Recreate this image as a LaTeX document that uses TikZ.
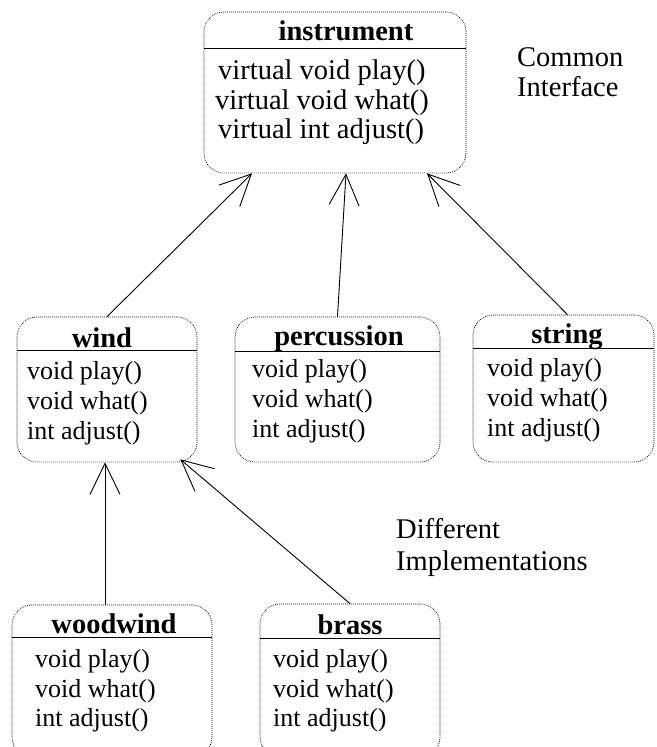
\documentclass[tikz,border=0pt]{standalone}
\usepackage{fontspec}
\setmainfont{Liberation Serif}
\usetikzlibrary{arrows.meta}

\begin{document}
\begin{tikzpicture}[
    x=1pt, y=-1pt,
    classbox/.style={draw, rounded corners=20pt, line width=0.7pt,
      dash pattern=on 0.9pt off 1.1pt, inner sep=0pt},
    sepline/.style={line width=1.2pt},
    title/.style={anchor=base, inner sep=0pt, font=\fontsize{28.5}{30}\selectfont\bfseries},
    member/.style={anchor=base west, inner sep=0pt, font=\fontsize{26}{30}\selectfont},
    note/.style={anchor=base west, inner sep=0pt, font=\fontsize{28.5}{30}\selectfont},
    inherit/.style={-{Straight Barb[length=31pt,width=30pt]}, line width=0.9pt}
  ]
    \useasboundingbox (0,0) rectangle (656,747);

    % base class
    \node[classbox, minimum width=262pt, minimum height=161pt] (instrument) at (335,92.5) {};
    \draw[sepline] ([yshift=-37pt]instrument.north west) -- ([yshift=-37pt]instrument.north east);
    \node[title] (instrument-title) at (346,40) {instrument};
    \node[member, font=\fontsize{28.5}{30}\selectfont] (instrument-play) at (218,79) {virtual void play()};
    \node[member, font=\fontsize{28.5}{30}\selectfont] (instrument-what) at (215,109) {virtual void what()};
    \node[member, font=\fontsize{28.5}{30}\selectfont] (instrument-adjust) at (218,138) {virtual int adjust()};
    \node[note] (common) at (517,66) {Common};
    \node[note] (interface) at (517,96) {Interface};

    % derived classes
    \node[classbox, minimum width=180pt, minimum height=145pt] (wind) at (107,389.5) {};
    \draw[sepline] ([yshift=-34pt]wind.north west) -- ([yshift=-34pt]wind.north east);
    \node[title] (wind-title) at (102,347) {wind};
    \node[member] (wind-play) at (27,379) {void play()};
    \node[member] (wind-what) at (27,409) {void what()};
    \node[member] (wind-adjust) at (27,439) {int adjust()};

    \node[classbox, minimum width=205pt, minimum height=145pt] (percussion) at (337.5,389.5) {};
    \draw[sepline] ([yshift=-35pt]percussion.north west) -- ([yshift=-35pt]percussion.north east);
    \node[title] (percussion-title) at (339,345) {percussion};
    \node[member] (percussion-play) at (252,377) {void play()};
    \node[member] (percussion-what) at (252,407) {void what()};
    \node[member] (percussion-adjust) at (252,437) {int adjust()};

    \node[classbox, minimum width=181pt, minimum height=147pt] (string) at (563.5,388.5) {};
    \draw[sepline] ([yshift=-34pt]string.north west) -- ([yshift=-34pt]string.north east);
    \node[title] (string-title) at (567,343) {string};
    \node[member] (string-play) at (487,376) {void play()};
    \node[member] (string-what) at (487,406) {void what()};
    \node[member] (string-adjust) at (487,436) {int adjust()};

    % wind subclasses
    \node[classbox, minimum width=200pt, minimum height=152pt] (woodwind) at (112,681) {};
    \draw[sepline] ([yshift=-33pt]woodwind.north west) -- ([yshift=-33pt]woodwind.north east);
    \node[title] (woodwind-title) at (114,633) {woodwind};
    \node[member] (woodwind-play) at (35,667) {void play()};
    \node[member] (woodwind-what) at (35,697) {void what()};
    \node[member] (woodwind-adjust) at (35,726) {int adjust()};

    \node[classbox, minimum width=180pt, minimum height=153pt] (brass) at (350,680.5) {};
    \draw[sepline] ([yshift=-35pt]brass.north west) -- ([yshift=-35pt]brass.north east);
    \node[title] (brass-title) at (350,634) {brass};
    \node[member] (brass-play) at (273,667) {void play()};
    \node[member] (brass-what) at (273,697) {void what()};
    \node[member] (brass-adjust) at (273,726) {int adjust()};
    \node[note] (different) at (396,538) {Different};
    \node[note] (implementations) at (396,570) {Implementations};

    \draw[inherit] (wind.north) -- ([xshift=-83pt]instrument.south);
    \draw[inherit] (percussion.north) -- ([xshift=11pt]instrument.south);
    \draw[inherit] ([xshift=4pt]string.north) -- ([xshift=92pt]instrument.south);
    \draw[inherit] ([xshift=-7pt]woodwind.north) -- ([xshift=-2pt]wind.south);
    \draw[inherit] (brass.north) -- ([xshift=-17pt,yshift=3pt]wind.south east);
  \end{tikzpicture}
\end{document}
